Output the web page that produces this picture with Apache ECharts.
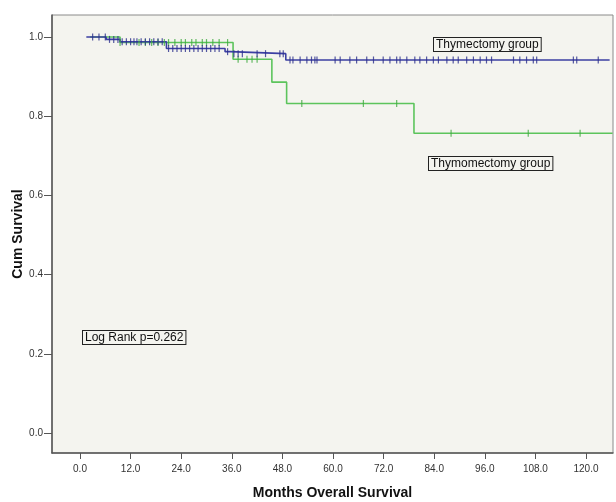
<!DOCTYPE html>
<html>
<head>
<meta charset="utf-8">
<script src="https://cdn.jsdelivr.net/npm/echarts@6/dist/echarts.min.js"></script>
<style>
  html, body { margin: 0; padding: 0; background: #fff; }
  #main { width: 616px; height: 502px; }
</style>
</head>
<body>
<div id="main"></div>
<script>
// tick labels
const xTicks = [0, 12, 24, 36, 48, 60, 72, 84, 96, 108, 120];
const yTicks = [0, 0.2, 0.4, 0.6, 0.8, 1.0];

// KM step points [month, survival] - value holds until next time
const thymectomySteps = [
  [1.5, 1.0], [6.2, 0.994], [9.5, 0.988], [20.5, 0.971],
  [34.4, 0.963], [35.6, 0.958], [48.8, 0.942], [125.6, 0.942]
];
const thymomectomySteps = [
  [2.4, 1.0], [9.5, 0.986], [36.3, 0.944], [45.5, 0.886],
  [49.0, 0.832], [79.2, 0.757], [126.3, 0.757]
];

// censored times (months)
const thymectomyCensor = [
  3, 4.5, 6, 7, 8, 9, 10, 11, 12, 12.8, 13.5, 14.5, 15.5, 16.5, 17.5, 18.5, 19.5,
  21, 22, 23, 24, 25, 26, 27, 28, 29, 30, 31, 32, 33, 35, 36.5, 37.5, 38.5,
  42, 44, 47.4, 48.2, 49.8, 50.5, 52.2, 53.8, 54.9, 55.7, 56.2, 60.5, 61.7,
  64, 65.6, 68, 69.6, 71.9, 73.5, 75.1, 75.9, 77.5, 79.4, 80.6, 82.2, 83.8,
  85, 87, 88.5, 89.7, 91.7, 93.3, 94.9, 96.4, 97.6, 102.8, 104.3, 105.9,
  107.5, 108.3, 117, 117.8, 122.9
];
const thymomectomyCensor = [
  9.5, 14, 15.5, 17, 18.5, 20, 21, 22.5, 24, 25, 26.5, 27.5, 29, 30, 31.5, 33, 35,
  37.5, 39.6, 40.8, 42, 52.6, 67.2, 75.1, 88, 106.3, 118.6
];

const blue = '#3b3fa3';
const green = '#5cc45c';

function survAt(steps, t) {
  let v = steps[0][1];
  for (const s of steps) { if (s[0] <= t) v = s[1]; }
  return v;
}

const chart = echarts.init(document.getElementById('main'));
const font = '"Liberation Sans", Arial, sans-serif';

const option = {
  backgroundColor: '#ffffff',
  animation: false,
  grid: {
    left: 52, top: 15, right: 3, bottom: 49, outerBoundsMode: 'none',
    show: true, backgroundColor: '#f4f4ef', borderColor: '#8a8a8a', borderWidth: 1
  },
  xAxis: {
    type: 'value', min: -6.64, max: 126.4,
    name: 'Months Overall Survival', nameLocation: 'middle', nameGap: 33,
    nameTextStyle: { fontFamily: font, fontSize: 14, fontWeight: 'bold', color: '#111' },
    axisLine: { show: true, onZero: false, lineStyle: { color: '#555', width: 1.5 } },
    axisTick: { show: true, length: 6, customValues: xTicks, lineStyle: { color: '#555' } },
    axisLabel: {
      customValues: xTicks, margin: 11, fontFamily: font, fontSize: 10, color: '#333',
      formatter: v => v.toFixed(1)
    },
    splitLine: { show: false }
  },
  yAxis: {
    type: 'value', min: -0.0505, max: 1.0556,
    name: 'Cum Survival', nameLocation: 'middle', nameGap: 27, nameMoveOverlap: false,
    nameTextStyle: { fontFamily: font, fontSize: 14, fontWeight: 'bold', color: '#111' },
    axisLine: { show: true, onZero: false, lineStyle: { color: '#555', width: 1.5 } },
    axisTick: { show: true, length: 8, customValues: yTicks, lineStyle: { color: '#555' } },
    axisLabel: {
      customValues: yTicks, margin: 9, fontFamily: font, fontSize: 10, color: '#333',
      formatter: v => v.toFixed(1)
    },
    splitLine: { show: false }
  },
  series: [
    {
      name: 'Thymomectomy group', type: 'line', step: 'end', data: thymomectomySteps,
      showSymbol: false, lineStyle: { color: green, width: 1.6 }, z: 3
    },
    {
      name: 'Thymectomy group', type: 'line', step: 'end', data: thymectomySteps,
      showSymbol: false, lineStyle: { color: blue, width: 1.6 }, z: 4
    },
    {
      type: 'scatter', symbol: 'rect', symbolSize: [1.2, 7],
      data: thymomectomyCensor.map(t => [t, survAt(thymomectomySteps, t)]),
      itemStyle: { color: '#3faa3f' }, z: 5
    },
    {
      type: 'scatter', symbol: 'rect', symbolSize: [1.2, 7],
      data: thymectomyCensor.map(t => [t, survAt(thymectomySteps, t)]),
      itemStyle: { color: '#2a2e8c' }, z: 6
    }
  ],
  graphic: [
    {
      type: 'text', left: 433, top: 37, z: 10,
      style: {
        text: 'Thymectomy group', font: '12px ' + font, fill: '#111',
        backgroundColor: '#f4f4ef', borderColor: '#222', borderWidth: 1, padding: [1, 2, 0, 2]
      }
    },
    {
      type: 'text', left: 428, top: 156, z: 10,
      style: {
        text: 'Thymomectomy group', font: '12px ' + font, fill: '#111',
        backgroundColor: '#f4f4ef', borderColor: '#222', borderWidth: 1, padding: [1, 2, 0, 2]
      }
    },
    {
      type: 'text', left: 82, top: 330, z: 10,
      style: {
        text: 'Log Rank p=0.262', font: '12px ' + font, fill: '#111',
        backgroundColor: '#f4f4ef', borderColor: '#222', borderWidth: 1, padding: [1, 2, 0, 2]
      }
    }
  ]
};
chart.setOption(option);
</script>
</body>
</html>
